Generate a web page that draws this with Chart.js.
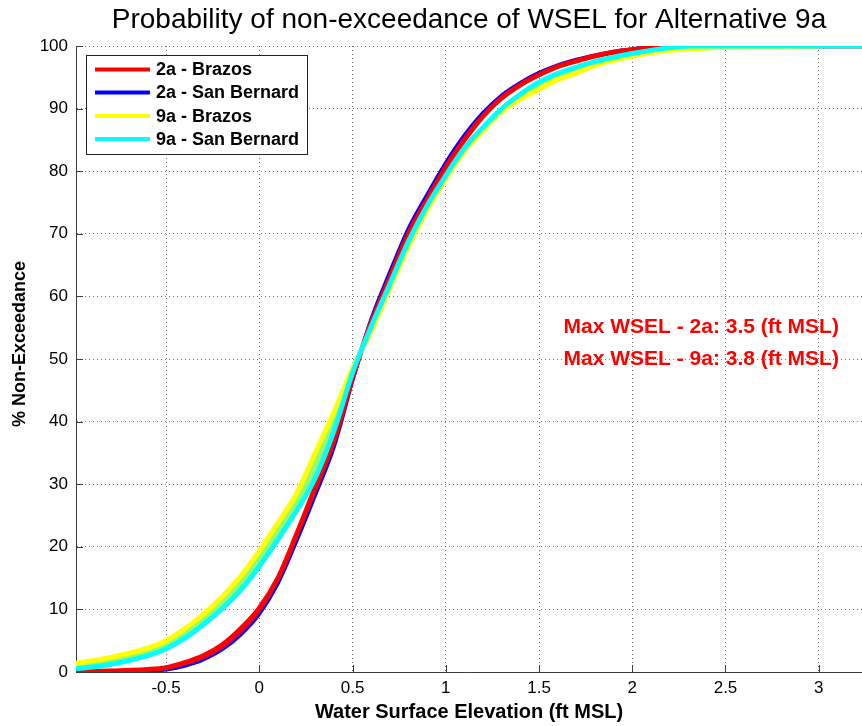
<!DOCTYPE html>
<html>
<head>
<meta charset="utf-8">
<script src="https://cdn.jsdelivr.net/npm/chart.js@4/dist/chart.umd.min.js"></script>
<style>
  html, body { margin: 0; padding: 0; background: #ffffff; }
  #wrap { width: 862px; height: 726px; }
</style>
</head>
<body>
<div id="wrap"><canvas id="cdf" width="862" height="726"></canvas></div>
<script>
// Axis ticks
const xTicks = [-0.5, 0, 0.5, 1, 1.5, 2, 2.5, 3];
const yTicks = [0, 10, 20, 30, 40, 50, 60, 70, 80, 90, 100];

// Alternative 2a - Brazos: water surface elevation (ft MSL) vs % non-exceedance
const elev2aBrazos = [-0.983, -0.8, -0.6, -0.5, -0.4, -0.3, -0.2, -0.1, 0, 0.1, 0.2, 0.3, 0.4, 0.5, 0.6, 0.7, 0.8, 0.9, 1.0, 1.1, 1.2, 1.3, 1.4, 1.5, 1.6, 1.7, 1.8, 1.9, 2.0, 2.1, 2.24, 2.6, 3.0, 3.5];
const pct2aBrazos  = [0.05, 0.15, 0.4, 0.7, 1.5, 2.6, 4.3, 6.9, 10.2, 15.0, 22.0, 29.5, 37.0, 47.0, 55.8, 63.0, 70.0, 75.4, 80.6, 85.0, 88.8, 91.7, 93.8, 95.4, 96.7, 97.6, 98.4, 99.0, 99.4, 99.7, 100, 100, 100, 100];

// Alternative 2a - San Bernard
const elev2aSanBernard = [-0.983, -0.8, -0.6, -0.5, -0.4, -0.3, -0.2, -0.1, 0, 0.1, 0.2, 0.3, 0.4, 0.5, 0.6, 0.7, 0.8, 0.9, 1.0, 1.1, 1.2, 1.3, 1.4, 1.5, 1.6, 1.7, 1.8, 1.9, 2.0, 2.1, 2.2, 2.6, 3.0, 3.5];
const pct2aSanBernard  = [0, 0.05, 0.2, 0.4, 1.0, 2.0, 3.6, 6.0, 9.3, 14.2, 21.0, 28.3, 36.0, 46.6, 56.3, 63.8, 70.8, 76.2, 81.3, 85.7, 89.3, 92.1, 94.1, 95.7, 96.9, 97.8, 98.5, 99.1, 99.5, 99.8, 100, 100, 100, 100];

// Alternative 9a - Brazos
const elev9aBrazos = [-0.983, -0.8, -0.6, -0.5, -0.4, -0.3, -0.2, -0.1, 0, 0.1, 0.2, 0.3, 0.4, 0.5, 0.6, 0.7, 0.8, 0.9, 1.0, 1.1, 1.2, 1.3, 1.4, 1.5, 1.6, 1.7, 1.8, 1.9, 2.0, 2.2, 2.4, 2.7, 3.0];
const pct9aBrazos  = [1.4, 2.3, 3.8, 5.0, 6.9, 9.2, 12.0, 15.3, 19.3, 23.8, 28.5, 35.0, 41.5, 48.5, 54.5, 61.3, 68.0, 73.8, 78.8, 83.2, 86.5, 89.5, 91.5, 93.1, 94.6, 95.7, 96.9, 97.7, 98.4, 99.3, 99.7, 99.9, 100];

// Alternative 9a - San Bernard
const elev9aSanBernard = [-0.983, -0.8, -0.6, -0.5, -0.4, -0.3, -0.2, -0.1, 0, 0.1, 0.2, 0.3, 0.4, 0.5, 0.6, 0.7, 0.8, 0.9, 1.0, 1.1, 1.2, 1.3, 1.4, 1.5, 1.6, 1.7, 1.8, 1.9, 2.0, 2.1, 2.2, 2.33, 3.0, 3.8];
const pct9aSanBernard  = [0.5, 1.2, 2.6, 3.7, 5.4, 7.6, 10.1, 13.1, 16.9, 21.2, 25.8, 31.0, 38.5, 47.8, 55.2, 62.0, 68.8, 74.5, 79.3, 83.7, 87.0, 90.0, 92.3, 94.2, 95.6, 96.6, 97.5, 98.2, 98.8, 99.3, 99.7, 100, 100, 100];

const seriesLabels = ['2a - Brazos', '2a - San Bernard', '9a - Brazos', '9a - San Bernard'];
const maxNotes = ['Max WSEL - 2a: 3.5 (ft MSL)', 'Max WSEL - 9a: 3.8 (ft MSL)'];
const maxNoteAnchor = { x: 2.37, y: [55, 50] };

const FONT = "'Liberation Sans', Arial, Helvetica, sans-serif";

const toPoints = (xs, ys) => xs.map((x, i) => ({ x, y: ys[i] }));

// Short solid tick marks pointing into the plot
const inwardTicks = {
  id: 'inwardTicks',
  beforeDatasetsDraw(chart) {
    const { ctx, chartArea: a, scales: { x, y } } = chart;
    ctx.save();
    ctx.strokeStyle = '#3c3c3c';
    ctx.lineWidth = 1;
    ctx.beginPath();
    x.ticks.forEach(t => {
      const px = Math.round(x.getPixelForValue(t.value)) + 0.5;
      ctx.moveTo(px, a.bottom);
      ctx.lineTo(px, a.bottom - 7);
    });
    y.ticks.forEach(t => {
      const py = Math.round(y.getPixelForValue(t.value)) + 0.5;
      ctx.moveTo(a.left, py);
      ctx.lineTo(a.left + 7, py);
    });
    ctx.stroke();
    ctx.restore();
  }
};

// Boxed legend inside the plot, y-axis title and the max-WSEL notes
const overlays = {
  id: 'overlays',
  afterDraw(chart) {
    const { ctx, scales: { x, y } } = chart;
    ctx.save();

    // y axis title
    ctx.translate(20, 344);
    ctx.rotate(-Math.PI / 2);
    ctx.fillStyle = '#000';
    ctx.font = `bold 18px ${FONT}`;
    ctx.textAlign = 'center';
    ctx.textBaseline = 'middle';
    ctx.fillText('% Non-Exceedance', 0, 0);
    ctx.setTransform(1, 0, 0, 1, 0, 0);

    // legend
    const bx = 86.5, by = 55.5, bw = 221, bh = 99;
    ctx.fillStyle = '#fff';
    ctx.fillRect(bx, by, bw, bh);
    ctx.strokeStyle = '#222';
    ctx.lineWidth = 1;
    ctx.strokeRect(bx, by, bw, bh);
    const rows = [69.5, 92.5, 116, 139];
    ctx.font = `bold 18px ${FONT}`;
    ctx.textAlign = 'left';
    ctx.textBaseline = 'middle';
    chart.data.datasets.forEach((ds, i) => {
      ctx.strokeStyle = ds.borderColor;
      ctx.lineWidth = 4;
      ctx.beginPath();
      ctx.moveTo(95, rows[i]);
      ctx.lineTo(150, rows[i]);
      ctx.stroke();
      ctx.fillStyle = '#000';
      ctx.fillText(ds.label, 156, rows[i] + 1);
    });

    // notes
    ctx.fillStyle = '#ff0000';
    ctx.font = `bold 21px ${FONT}`;
    ctx.textAlign = 'center';
    maxNotes.forEach((txt, i) => {
      ctx.fillText(txt, x.getPixelForValue(maxNoteAnchor.x), y.getPixelForValue(maxNoteAnchor.y[i]));
    });
    ctx.restore();
  }
};

const lineBase = {
  borderWidth: 5,
  pointRadius: 0,
  pointHoverRadius: 0,
  cubicInterpolationMode: 'monotone',
  borderCapStyle: 'butt',
  borderJoinStyle: 'round'
};

new Chart(document.getElementById('cdf'), {
  type: 'line',
  data: {
    datasets: [
      { ...lineBase, label: seriesLabels[0], data: toPoints(elev2aBrazos, pct2aBrazos),
        borderColor: '#ff0000', fill: '+1', backgroundColor: 'rgb(200,0,80)', order: 2 },
      { ...lineBase, label: seriesLabels[1], data: toPoints(elev2aSanBernard, pct2aSanBernard),
        borderColor: '#0000ff', borderWidth: 4, fill: false, order: 3 },
      { ...lineBase, label: seriesLabels[2], data: toPoints(elev9aBrazos, pct9aBrazos),
        borderColor: '#ffff00', fill: '+1', backgroundColor: 'rgb(150,250,110)', order: 1 },
      { ...lineBase, label: seriesLabels[3], data: toPoints(elev9aSanBernard, pct9aSanBernard),
        borderColor: '#00ffff', fill: false, order: 0 }
    ]
  },
  options: {
    responsive: false,
    animation: false,
    events: [],
    layout: { padding: 0 },
    plugins: {
      legend: { display: false },
      tooltip: { enabled: false },
      title: {
        display: true,
        fullSize: false,
        text: 'Probability of non-exceedance of WSEL for Alternative 9a',
        color: '#000',
        font: { family: FONT, size: 28, weight: 'normal', lineHeight: 1.2 },
        padding: { top: 3, bottom: 9.4 }
      }
    },
    scales: {
      x: {
        type: 'linear',
        min: -0.983,
        max: 3.232,
        afterBuildTicks: axis => { axis.ticks = xTicks.map(v => ({ value: v })); },
        afterFit: s => { s.height = 54; s.paddingLeft = 0; s.paddingRight = 0; },
        ticks: {
          color: '#000',
          font: { family: FONT, size: 17 },
          padding: 6,
          maxRotation: 0,
          autoSkip: false,
          callback: v => String(v)
        },
        grid: {
          color: 'rgba(0,0,0,0.55)',
          lineWidth: 1,
          drawTicks: false,
          tickLength: 0
        },
        border: { display: true, color: '#3c3c3c', width: 1, dash: [1, 3] },
        title: {
          display: true,
          text: 'Water Surface Elevation (ft MSL)',
          color: '#000',
          font: { family: FONT, size: 20, weight: 'bold', lineHeight: 1.2 },
          padding: { top: 0, bottom: 1.5 }
        }
      },
      y: {
        type: 'linear',
        min: 0,
        max: 100,
        afterBuildTicks: axis => { axis.ticks = yTicks.map(v => ({ value: v })); },
        afterFit: s => { s.width = 76; s.paddingTop = 0; s.paddingBottom = 0; },
        ticks: {
          color: '#000',
          font: { family: FONT, size: 17 },
          padding: 8,
          autoSkip: false,
          callback: v => String(v)
        },
        grid: {
          color: 'rgba(0,0,0,0.55)',
          lineWidth: 1,
          drawTicks: false,
          tickLength: 0
        },
        border: { display: true, color: '#3c3c3c', width: 1, dash: [1, 3] }
      }
    }
  },
  plugins: [inwardTicks, overlays]
});
</script>
</body>
</html>
